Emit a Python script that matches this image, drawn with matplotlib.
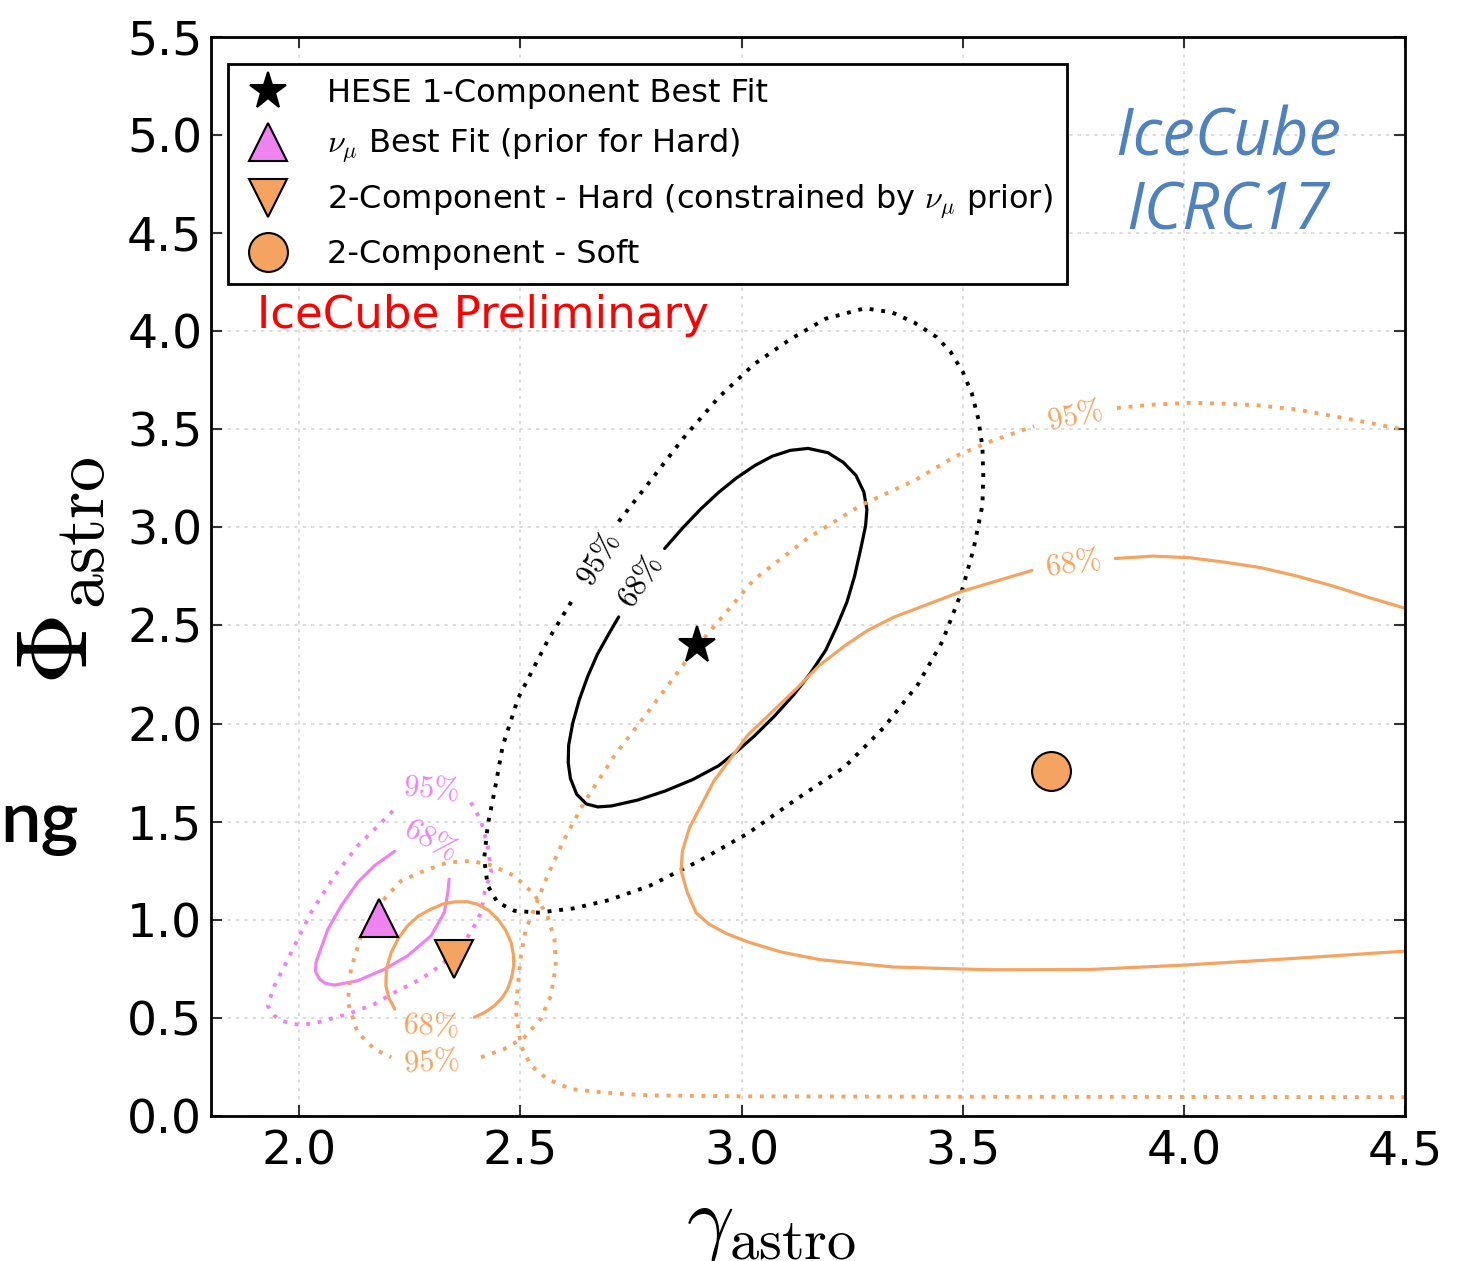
import numpy as np
import matplotlib as mpl
import matplotlib.pyplot as plt

mpl.rcParams.update({
    "font.family": "DejaVu Sans",
    "mathtext.fontset": "cm",
    "axes.linewidth": 2,
    "xtick.direction": "in",
    "ytick.direction": "in",
    "xtick.top": True,
    "ytick.right": True,
    "xtick.labelsize": 34,
    "ytick.labelsize": 34,
})

nan = np.nan

# best fit points (gamma_astro, phi_astro)
hese_best = (2.90, 2.40)
numu_best = (2.18, 1.01)
hard_best = (2.35, 0.80)
soft_best = (3.70, 1.76)

# HESE 1-component contours (nan = gap for the contour label)
hese68_g = [2.826, 2.866, 2.907, 2.948, 2.988, 3.030, 3.069, 3.110, 3.150, 3.195, 3.230, 3.258,
            3.276, 3.283, 3.280, 3.270, 3.255, 3.238, 3.215, 3.190, 3.155, 3.117, 3.075, 3.028,
            2.990, 2.948, 2.890, 2.827, 2.765, 2.706, 2.675, 2.649, 2.627, 2.613, 2.608, 2.609,
            2.618, 2.633, 2.652, 2.674, 2.698, 2.722]
hese68_p = [2.892, 2.995, 3.092, 3.178, 3.251, 3.315, 3.362, 3.392, 3.402, 3.380, 3.330, 3.265,
            3.180, 3.090, 3.008, 2.900, 2.750, 2.620, 2.495, 2.374, 2.255, 2.145, 2.040, 1.935,
            1.860, 1.785, 1.715, 1.656, 1.610, 1.580, 1.575, 1.590, 1.640, 1.720, 1.800, 1.889,
            2.000, 2.121, 2.240, 2.353, 2.450, 2.543]
hese95_g = [2.722, 2.795, 2.867, 2.948, 3.028, 3.109, 3.190, 3.278, 3.340, 3.391, 3.440, 3.472,
            3.500, 3.520, 3.535, 3.544, 3.546, 3.544, 3.524, 3.497, 3.453, 3.398, 3.321, 3.233,
            3.124, 3.014, 2.904, 2.794, 2.700, 2.620, 2.540, 2.486, 2.448, 2.426, 2.418, 2.426,
            2.441, 2.460, 2.495, 2.561, 2.617]
hese95_p = [3.029, 3.240, 3.451, 3.662, 3.831, 3.957, 4.063, 4.116, 4.095, 4.042, 3.970, 3.894,
            3.790, 3.683, 3.550, 3.409, 3.260, 3.113, 2.889, 2.671, 2.416, 2.198, 1.979, 1.779,
            1.615, 1.440, 1.300, 1.175, 1.100, 1.058, 1.036, 1.046, 1.089, 1.174, 1.310, 1.480,
            1.650, 1.886, 2.130, 2.420, 2.628]

# numu best fit contours
numu68_g = [2.216, 2.170, 2.132, 2.095, 2.065, 2.038, 2.037, 2.046, 2.060, 2.080, 2.132, 2.193,
            2.245, 2.298, 2.328, 2.336, 2.339]
numu68_p = [1.349, 1.275, 1.190, 1.071, 0.952, 0.783, 0.735, 0.698, 0.675, 0.667, 0.689, 0.748,
            0.816, 0.918, 1.037, 1.139, 1.207]
numu95_g = [2.388, 2.411, 2.426, 2.434, 2.419, 2.411, 2.396, 2.373, 2.336, 2.298, 2.261, 2.216,
            2.170, 2.110, 2.042, 2.010, 1.989, 1.960, 1.944, 1.929, 1.944, 1.982, 2.027, 2.080,
            2.132, 2.178, 2.212]
numu95_p = [1.598, 1.504, 1.376, 1.242, 1.139, 1.037, 0.969, 0.884, 0.799, 0.731, 0.681, 0.630,
            0.570, 0.519, 0.477, 0.465, 0.468, 0.485, 0.511, 0.562, 0.663, 0.833, 1.037, 1.224,
            1.376, 1.478, 1.555]

# 2-component hard contours
hard68_g = [2.216, 2.203, 2.196, 2.197, 2.208, 2.224, 2.245, 2.270, 2.298, 2.325, 2.351, 2.380,
            2.403, 2.428, 2.449, 2.467, 2.479, 2.484, 2.485, 2.480, 2.471, 2.458, 2.441, 2.420, 2.396]
hard68_p = [0.545, 0.600, 0.663, 0.750, 0.833, 0.905, 0.969, 1.020, 1.054, 1.080, 1.091, 1.092,
            1.079, 1.048, 1.003, 0.945, 0.884, 0.825, 0.765, 0.705, 0.647, 0.600, 0.562, 0.528, 0.503]
hard95_g = [2.411, 2.463, 2.509, 2.546, 2.569, 2.580, 2.577, 2.561, 2.531, 2.486, 2.434, 2.388,
            2.336, 2.283, 2.230, 2.178, 2.140, 2.117, 2.110, 2.132, 2.170, 2.208]
hard95_p = [0.299, 0.341, 0.401, 0.494, 0.613, 0.765, 0.901, 1.020, 1.130, 1.224, 1.278, 1.300,
            1.292, 1.250, 1.198, 1.071, 0.918, 0.748, 0.579, 0.426, 0.341, 0.299]

# 2-component soft contours
soft68_g = [4.50, 4.419, 4.337, 4.255, 4.174, 4.092, 4.011, 3.930, 3.844, nan, 3.656, 3.497, 3.343,
            3.285, 3.233, 3.175, 3.124, 3.014, 2.937, 2.882, 2.866, 2.863, 2.877, 2.897, 2.926,
            2.965, 3.014, 3.090, 3.179, 3.343, 3.562, 3.782, 4.001, 4.221, 4.50]
soft68_p = [2.587, 2.641, 2.700, 2.751, 2.794, 2.822, 2.845, 2.853, 2.841, nan, 2.780, 2.673, 2.541,
            2.475, 2.396, 2.295, 2.178, 1.941, 1.706, 1.469, 1.350, 1.251, 1.140, 1.035, 0.978,
            0.930, 0.887, 0.835, 0.796, 0.759, 0.745, 0.746, 0.769, 0.799, 0.840]
soft95_g = [4.50, 4.00, 3.50, 3.00, 2.794, 2.740, 2.682, 2.614, 2.561, 2.524, 2.501, 2.490, 2.494,
            2.501, 2.512, 2.531, 2.548, 2.561, 2.599, 2.644, 2.712, 2.787, 2.900, 3.028, 3.149,
            3.270, 3.392, 3.483, 3.563, 3.661, nan, 3.848, 3.930, 4.011, 4.092, 4.174, 4.255,
            4.337, 4.419, 4.50]
soft95_p = [0.096, 0.097, 0.098, 0.100, 0.105, 0.111, 0.121, 0.137, 0.188, 0.256, 0.358, 0.528,
            0.663, 0.816, 0.950, 1.054, 1.150, 1.224, 1.410, 1.597, 1.835, 2.055, 2.395, 2.734,
            2.944, 3.113, 3.240, 3.362, 3.438, 3.515, nan, 3.608, 3.625, 3.634, 3.630, 3.620,
            3.600, 3.566, 3.532, 3.496]

legend_labels = ["HESE 1-Component Best Fit",
                 r"$\nu_\mu$ Best Fit (prior for Hard)",
                 r"2-Component - Hard (constrained by $\nu_\mu$ prior)",
                 "2-Component - Soft"]

xticks = [2.0, 2.5, 3.0, 3.5, 4.0, 4.5]
yticks = [0.0, 0.5, 1.0, 1.5, 2.0, 2.5, 3.0, 3.5, 4.0, 4.5, 5.0, 5.5]

orange = "sandybrown"
pink = "violet"
dots = (0, (1, 2))

fig = plt.figure(figsize=(14.66, 12.61), dpi=100)
ax = fig.add_axes([0.1437, 0.1150, 0.8150, 0.8559])

line_kw = dict(solid_joinstyle="round", solid_capstyle="round")
ax.plot(hese68_g, hese68_p, color="black", lw=2.3, **line_kw)
ax.plot(hese95_g, hese95_p, color="black", lw=2.8, ls=dots)
ax.plot(numu68_g, numu68_p, color=pink, lw=2.3, **line_kw)
ax.plot(numu95_g, numu95_p, color=pink, lw=2.8, ls=dots)
ax.plot(hard68_g, hard68_p, color=orange, lw=2.3, **line_kw)
ax.plot(hard95_g, hard95_p, color=orange, lw=2.8, ls=dots)
ax.plot(soft68_g, soft68_p, color=orange, lw=2.3, **line_kw)
ax.plot(soft95_g, soft95_p, color=orange, lw=2.8, ls=dots)

# contour labels
lab = dict(fontsize=22, ha="center", va="center", rotation_mode="anchor")
ax.text(2.677, 2.838, r"$95\%$", color="black", rotation=59, **lab)
ax.text(2.772, 2.722, r"$68\%$", color="black", rotation=56, **lab)
ax.text(2.298, 1.665, r"$95\%$", color=pink, rotation=-5, **lab)
ax.text(2.298, 1.410, r"$68\%$", color=pink, rotation=-29, **lab)
ax.text(2.298, 0.460, r"$68\%$", color=orange, rotation=-3, **lab)
ax.text(2.298, 0.273, r"$95\%$", color=orange, rotation=3, **lab)
ax.text(3.752, 3.565, r"$95\%$", color=orange, rotation=12, **lab)
ax.text(3.750, 2.815, r"$68\%$", color=orange, rotation=8, **lab)

mk = dict(ls="none", ms=28, mec="black", mew=1.5, zorder=5)
ax.plot(*hese_best, marker="*", color="black", label=legend_labels[0], **mk)
ax.plot(*numu_best, marker="^", mfc=pink, label=legend_labels[1], **mk)
ax.plot(*hard_best, marker="v", mfc=orange, label=legend_labels[2], **mk)
ax.plot(*soft_best, marker="o", mfc=orange, label=legend_labels[3], **mk)

leg = ax.legend(loc="upper left", bbox_to_anchor=(0.0142, 0.975), borderaxespad=0,
                numpoints=1, fontsize=23, fancybox=False, framealpha=1,
                borderpad=0.45, handlelength=1.6, handletextpad=1.05, labelspacing=0.55)
leg.get_frame().set_edgecolor("black")
leg.get_frame().set_linewidth(2)

ax.text(1.905, 4.08, "IceCube Preliminary", color="red", fontsize=32.5, va="center")
ax.text(4.10, 4.893, "IceCube", color="#4f81bd", fontsize=47, family="Open Sans",
        style="italic", ha="center", va="baseline")
ax.text(4.10, 4.516, "ICRC17", color="#4f81bd", fontsize=47, family="Open Sans",
        style="italic", ha="center", va="baseline")
fig.text(0.0, 0.3323, "ng", fontsize=52, family="Lato", weight="semibold", ha="left",
         va="baseline")

ax.set_xlim(1.8, 4.5)
ax.set_ylim(0, 5.5)
ax.set_xticks(xticks)
ax.set_yticks(yticks)
ax.tick_params(length=8, width=1.5, color="#333333")
ax.tick_params(axis="x", pad=10)
ax.tick_params(axis="y", pad=6)
ax.grid(True, color="#d6d6d6", ls=(0, (2, 3)), lw=1.2)
ax.set_axisbelow(True)

ax.set_xlabel(r"$\gamma_\mathrm{astro}$", fontsize=60)
ax.set_ylabel(r"$\Phi_\mathrm{astro}$", fontsize=72)
ax.xaxis.set_label_coords(0.469, -0.062)
ax.yaxis.set_label_coords(-0.085, 0.505)

fig.savefig("out.png", dpi=100)
